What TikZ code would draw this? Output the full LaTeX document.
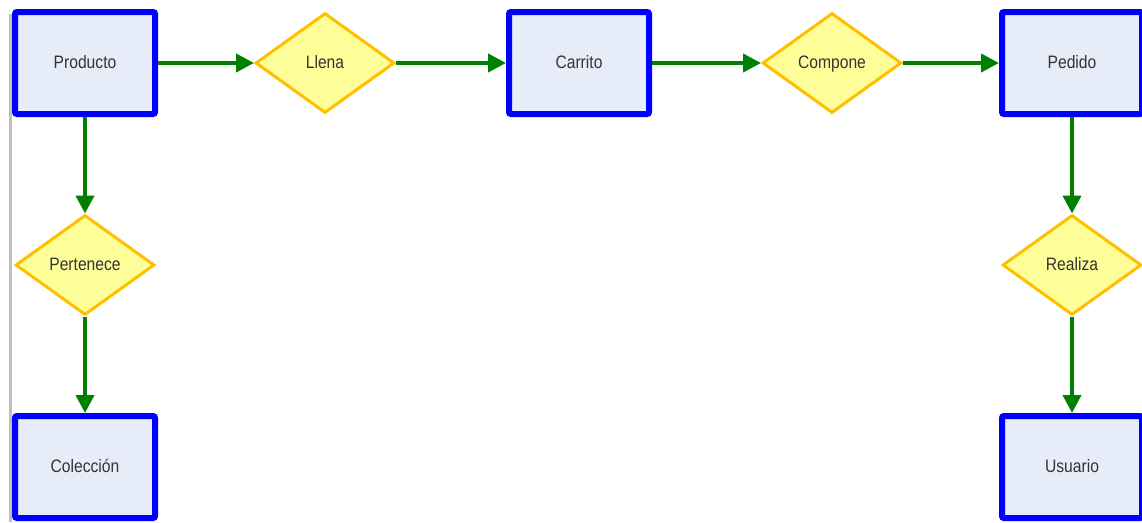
\documentclass[tikz,border=0pt]{standalone}
\usepackage{fontspec}
\newfontfamily\etiqfont[FakeStretch=0.87]{Liberation Sans}
\usetikzlibrary{shapes.geometric, arrows.meta}
\definecolor{entborde}{RGB}{0,0,255}
\definecolor{entfondo}{RGB}{230,236,248}
\definecolor{relborde}{RGB}{255,192,0}
\definecolor{relfondo}{RGB}{255,255,153}
\definecolor{flecha}{RGB}{0,128,0}
\definecolor{texto}{RGB}{51,51,51}
\begin{document}
\begin{tikzpicture}[x = 1pt, y = -1pt,
        entidad/.style = {draw = entborde, fill = entfondo, line width = 6pt, rounded corners = 2pt,
            minimum width = 140pt, minimum height = 102pt, text = texto, text height = 15pt, text depth = 4pt,
            font = \etiqfont\fontsize{18}{20}\selectfont},
        relacion/.style = {diamond, draw = relborde, fill = relfondo, line width = 3pt,
            minimum width = 139pt, minimum height = 100pt, inner sep = 0pt, text = texto, text height = 15pt, text depth = 4pt,
            font = \etiqfont\fontsize{18}{20}\selectfont},
        enlace/.style = {draw = flecha, line width = 4pt, -{Triangle[length = 18pt, width = 18pt]}}]
        \useasboundingbox (0, 0) rectangle (1142, 522);
        \draw[gray!50, line width = 3pt] (10, 14) -- (10, 522);
        \node[entidad] (producto) at (85, 63) {Producto};
        \node[relacion] (llena) at (325, 63) {Llena};
        \node[entidad] (carrito) at (579, 63) {Carrito};
        \node[relacion] (compone) at (832, 63) {Compone};
        \node[entidad] (pedido) at (1072, 63) {Pedido};
        \node[relacion] (pertenece) at (85, 265) {Pertenece};
        \node[entidad] (coleccion) at (85, 467) {Colección};
        \node[relacion] (realiza) at (1072, 265) {Realiza};
        \node[entidad] (usuario) at (1072, 467) {Usuario};
        \draw[enlace] (producto) -- (llena);
        \draw[enlace] (llena) -- (carrito);
        \draw[enlace] (carrito) -- (compone);
        \draw[enlace] (compone) -- (pedido);
        \draw[enlace] (producto) -- (pertenece);
        \draw[enlace] (pertenece) -- (coleccion);
        \draw[enlace] (pedido) -- (realiza);
        \draw[enlace] (realiza) -- (usuario);
    \end{tikzpicture}
\end{document}
